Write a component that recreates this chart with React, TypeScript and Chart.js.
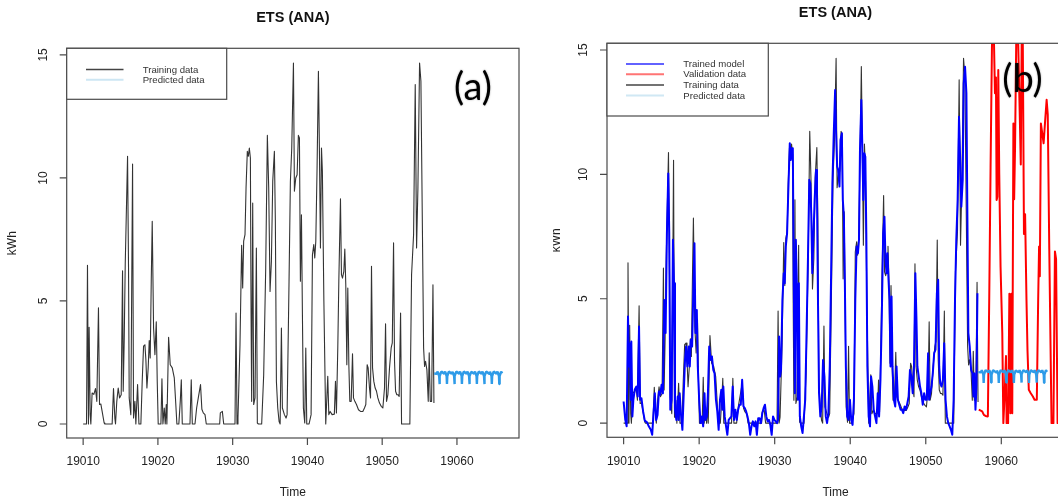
import React, { useEffect, useRef } from 'react';
import { Chart, registerables } from 'chart.js';
Chart.register(...registerables);

// ---------------- data ----------------
const xTicks = [19010, 19020, 19030, 19040, 19050, 19060];
const yTicks = [0, 5, 10, 15];
const X_MIN = 19007.8;
const X_MAX = 19068.3;
const Y_MIN = -0.57;
const Y_MAX = 15.27;

const trainT = [
  19010.0, 19010.45, 19010.58, 19010.71, 19010.8, 19010.94, 19011.03, 19011.2, 19011.43, 19011.65,
  19011.83, 19012.05, 19012.19, 19012.37, 19012.54, 19012.81, 19012.9, 19013.88, 19014.06, 19014.24,
  19014.33, 19014.5, 19014.69, 19014.87, 19015.09, 19015.27, 19015.36, 19015.49, 19015.63, 19015.94,
  19016.07, 19016.16, 19016.38, 19016.61, 19016.74, 19016.92, 19017.05, 19017.28, 19017.46, 19017.72,
  19017.9, 19018.08, 19018.26, 19018.39, 19018.53, 19018.7, 19018.84, 19018.97, 19019.11, 19019.24,
  19019.42, 19019.6, 19019.78, 19019.91, 19020.04, 19020.4, 19020.54, 19020.67, 19020.85, 19020.98,
  19021.12, 19021.2, 19021.43, 19021.65, 19021.92, 19022.19, 19022.37, 19022.54, 19022.8, 19022.99,
  19023.13, 19023.26, 19024.29, 19024.46, 19024.6, 19024.96, 19025.18, 19025.4, 19025.7, 19025.88,
  19026.07, 19026.3, 19026.47, 19028.26, 19028.35, 19028.62, 19028.8, 19030.31, 19030.45, 19030.58,
  19030.71, 19030.98, 19031.2, 19031.34, 19031.47, 19031.65, 19031.79, 19031.96, 19032.1, 19032.23,
  19032.37, 19032.46, 19032.54, 19032.68, 19032.81, 19032.99, 19033.17, 19033.3, 19033.44, 19033.88,
  19034.15, 19034.42, 19034.64, 19034.82, 19035.0, 19035.18, 19035.36, 19035.58, 19035.71, 19035.85,
  19036.03, 19036.21, 19036.35, 19036.52, 19036.65, 19036.92, 19037.14, 19037.28, 19037.54, 19037.72,
  19037.9, 19038.13, 19038.26, 19038.44, 19038.62, 19038.79, 19038.93, 19039.06, 19039.2, 19039.33,
  19039.46, 19039.64, 19039.78, 19039.91, 19040.22, 19040.49, 19040.67, 19040.85, 19040.98, 19041.12,
  19041.29, 19041.47, 19041.61, 19041.74, 19041.88, 19042.0, 19042.2, 19042.45, 19042.72, 19042.86,
  19043.04, 19043.3, 19043.6, 19043.75, 19043.88, 19044.06, 19044.2, 19044.42, 19044.55, 19044.69,
  19044.87, 19045.0, 19045.13, 19045.27, 19045.4, 19045.54, 19045.67, 19045.85, 19046.03, 19046.16,
  19046.34, 19046.56, 19046.83, 19047.1, 19047.41, 19047.63, 19047.81, 19047.99, 19048.12, 19048.3,
  19048.44, 19048.57, 19048.71, 19048.88, 19049.06, 19049.24, 19049.42, 19049.64, 19049.87, 19050.09,
  19050.31, 19050.45, 19050.58, 19050.76, 19050.98, 19051.2, 19051.35, 19051.52, 19051.65, 19051.79,
  19051.96, 19052.1, 19052.27, 19052.46, 19052.59, 19053.7, 19053.93, 19054.2, 19054.42, 19054.6,
  19054.78, 19055.0, 19055.18, 19055.36, 19055.54, 19055.67, 19055.8, 19055.98, 19056.16, 19056.29,
  19056.43, 19056.61, 19056.79, 19056.92,
];
const trainV = [
  0, 0, 6.45, 0, 3.93, 0.38, 0, 1.26, 1.2, 1.44,
  0.92, 4.72, 0.79, 0.81, 0.51, 0.04, 0, 0, 1.44, 0.24,
  0, 0.92, 1.46, 1.06, 1.19, 6.23, 1.33, 3.36, 6.48, 10.88,
  6.34, 1.06, 0.38, 10.57, 0.24, 0.92, 0, 1.6, 0, 0,
  1.73, 3.16, 3.22, 2.62, 1.46, 2.28, 3.39, 2.68, 5.8, 8.24,
  3.9, 2.82, 4.15, 1.73, 0, 0, 1.84, 0, 0.65, 0,
  0.79, 0, 3.52, 2.41, 2.28, 1.87, 0.92, 0, 0, 0.92,
  1.8, 0, 0, 1.8, 0, 0, 0.65, 1.06, 1.6, 0.6,
  0.45, 0.38, 0, 0, 0.45, 0.51, 0, 0, 4.51, 0,
  0.24, 3.22, 7.26, 5.53, 7.43, 7.7, 9.6, 11.08, 10.88, 11.22,
  10.81, 4.44, 0.92, 8.98, 0.79, 1.06, 7.15, 0.04, 0, 0,
  2.0, 6.34, 11.73, 9.6, 5.39, 6.61, 9.86, 11.08, 8.24, 1.73,
  0.65, 0.1, 0, 3.9, 0.65, 0.38, 0.24, 0.38, 5.8, 9.86,
  11.2, 14.67, 9.46, 10.0, 10.13, 11.73, 11.63, 5.8, 8.5, 4.44,
  0.65, 0.04, 3.09, 0, 0, 0.38, 6.88, 7.29, 6.75, 7.43,
  10.4, 14.34, 10.95, 7.15, 11.22, 10.27, 5.0, 0, 1.94, 0.38,
  0.51, 0.38, 0.4, 1.73, 0.45, 3.09, 5.8, 9.15, 6.07, 5.93,
  6.2, 7.11, 5.66, 2.41, 5.53, 2.41, 0.92, 0.92, 2.85, 1.06,
  0.92, 0.79, 0.58, 0.51, 0.51, 0.65, 0.79, 2.41, 2.28, 1.46,
  1.06, 6.41, 2.28, 1.73, 1.46, 1.33, 1.06, 0.85, 0.72, 0.65,
  1.46, 4.07, 0.92, 1.19, 2.28, 3.09, 3.3, 7.36, 2.55, 1.33,
  1.19, 1.19, 1.12, 4.51, 0, 0, 6.07, 7.7, 13.8, 7.15,
  9.6, 14.67, 13.93, 8.5, 3.09, 2.34, 2.55, 2.2, 0.92, 2.89,
  0.92, 0.92, 5.66, 0.85,
];

const modelT = [
  19010.0, 19010.22, 19010.4, 19010.58, 19010.71, 19010.84, 19010.93, 19011.02, 19011.16, 19011.29,
  19011.47, 19011.69, 19011.87, 19012.04, 19012.18, 19012.36, 19012.58, 19012.8, 19013.1, 19013.33,
  19013.6, 19013.78, 19013.96, 19014.13, 19014.31, 19014.49, 19014.67, 19014.84, 19015.02, 19015.2,
  19015.38, 19015.56, 19015.73, 19015.91, 19016.04, 19016.18, 19016.36, 19016.53, 19016.67, 19016.8,
  19016.98, 19017.16, 19017.29, 19017.42, 19017.6, 19017.78, 19017.96, 19018.13, 19018.27, 19018.44,
  19018.62, 19018.76, 19018.89, 19019.07, 19019.24, 19019.38, 19019.51, 19019.69, 19019.82, 19020.0,
  19020.18, 19020.36, 19020.53, 19020.71, 19020.84, 19021.02, 19021.16, 19021.33, 19021.51, 19021.69,
  19021.87, 19022.04, 19022.22, 19022.4, 19022.58, 19022.76, 19022.93, 19023.07, 19023.2, 19023.38,
  19023.56, 19023.73, 19023.91, 19024.09, 19024.27, 19024.44, 19024.62, 19024.8, 19024.98, 19025.16,
  19025.33, 19025.51, 19025.69, 19025.87, 19026.04, 19026.22, 19026.4, 19026.58, 19026.76, 19026.93,
  19027.11, 19027.29, 19027.47, 19027.64, 19027.82, 19028.0, 19028.18, 19028.36, 19028.53, 19028.71,
  19028.89, 19029.07, 19029.24, 19029.42, 19029.6, 19029.78, 19029.96, 19030.13, 19030.31, 19030.44,
  19030.58, 19030.71, 19030.84, 19031.02, 19031.2, 19031.33, 19031.47, 19031.64, 19031.82, 19032.0,
  19032.13, 19032.27, 19032.4, 19032.53, 19032.67, 19032.8, 19032.93, 19033.07, 19033.2, 19033.33,
  19033.51, 19033.69, 19033.87, 19034.04, 19034.22, 19034.4, 19034.58, 19034.71, 19034.84, 19034.98,
  19035.11, 19035.29, 19035.47, 19035.6, 19035.73, 19035.87, 19036.04, 19036.22, 19036.4, 19036.58,
  19036.76, 19036.93, 19037.11, 19037.29, 19037.47, 19037.64, 19037.82, 19038.0, 19038.13, 19038.27,
  19038.4, 19038.58, 19038.71, 19038.89, 19039.02, 19039.16, 19039.29, 19039.42, 19039.6, 19039.78,
  19039.96, 19040.13, 19040.31, 19040.49, 19040.67, 19040.84, 19041.02, 19041.16, 19041.29, 19041.47,
  19041.6, 19041.73, 19041.87, 19042.0, 19042.13, 19042.27, 19042.44, 19042.62, 19042.76, 19042.93,
  19043.11, 19043.29, 19043.47, 19043.64, 19043.82, 19044.0, 19044.18, 19044.36, 19044.53, 19044.67,
  19044.8, 19044.93, 19045.07, 19045.2, 19045.33, 19045.47, 19045.6, 19045.78, 19045.96, 19046.13,
  19046.31, 19046.49, 19046.67, 19046.84, 19047.02, 19047.2, 19047.38, 19047.56, 19047.73, 19047.91,
  19048.09, 19048.27, 19048.44, 19048.62, 19048.76, 19048.89, 19049.07, 19049.24, 19049.42, 19049.6,
  19049.78, 19049.96, 19050.13, 19050.31, 19050.44, 19050.58, 19050.76, 19050.93, 19051.11, 19051.29,
  19051.47, 19051.64, 19051.78, 19051.91, 19052.09, 19052.27, 19052.44, 19052.62, 19052.8, 19052.98,
  19053.16, 19053.33, 19053.51, 19053.69, 19053.87, 19054.04, 19054.22, 19054.4, 19054.58, 19054.71,
  19054.89, 19055.02, 19055.2, 19055.38, 19055.51, 19055.64, 19055.82, 19056.0, 19056.18, 19056.31,
  19056.44, 19056.58, 19056.71, 19056.84,
];
const modelV = [
  0.87, 0.13, -0.13, 4.29, 2.28, 3.2, 0.94, 3.28, 0.27, 0.94,
  1.34, 1.47, 1.07, 3.88, 0.94, 1.0, 0.47, 0.1, 0.03, -0.13,
  -0.27, -0.47, 0.4, 1.2, 0.13, 0.33, 1.27, 1.14, 1.54, 1.2,
  4.95, 3.62, 7.63, 10.04, 7.63, 0.54, 0.94, 7.37, 5.62, 0.54,
  0.13, 1.07, 0.13, 1.2, 0.33, -0.27, 1.2, 2.54, 3.08, 2.28,
  3.08, 2.28, 3.35, 3.08, 5.49, 7.23, 3.62, 4.55, 2.28, 0.94,
  0, 0.27, -0.13, 1.2, 0.13, 0.27, 1.2, 3.08, 2.54, 2.68,
  2.14, 2.0, 0.94, 0.47, -0.27, 0.94, 1.34, 0.54, 1.47, 0.27,
  -0.13, -0.47, 0.13, 0.2, 0.27, 1.47, 0.13, 0.54, 0.13, 0.54,
  0.74, 0.74, 1.74, 0.67, 0.6, 0.47, 0.27, 0, -0.47, -0.13,
  0.07, -0.13, 0.07, -0.47, 0.2, 0.2, 0, 0.4, 0.6, 0.74,
  0.27, 0.07, 0.13, -0.07, -0.47, 0.27, 0.13, 0.07, 0, 0.13,
  3.48, 1.87, 2.14, 4.95, 6.03, 5.62, 7.1, 7.63, 9.51, 11.25,
  10.58, 11.05, 11.05, 5.49, 1.2, 7.37, 5.62, 0.94, 5.62, 0.27,
  -0.13, -0.4, 0.27, 0.94, 3.62, 6.56, 9.78, 9.64, 8.44, 6.03,
  7.37, 8.97, 10.18, 9.24, 4.95, 1.2, 0.27, 0.67, 2.54, 1.87,
  0.27, 0, 0.4, 2.28, 6.03, 9.64, 11.65, 13.39, 11.65, 10.31,
  10.18, 9.51, 11.38, 11.65, 8.97, 8.3, 5.62, 2.28, 0.27, 0.13,
  0.94, 0.13, -0.07, 0.94, 4.95, 7.1, 6.83, 7.37, 10.98, 12.99,
  11.11, 8.97, 10.85, 10.71, 7.63, 2.28, 0.27, -0.13, 1.87, 1.47,
  0.54, 0.27, 0, 1.2, 0.27, 1.74, 4.29, 7.63, 8.3, 6.56,
  6.03, 6.83, 5.76, 4.95, 2.28, 5.09, 2.28, 0.94, 0.67, 2.28,
  0.94, 0.74, 0.54, 0.54, 0.4, 0.67, 0.54, 0.8, 1.07, 2.14,
  1.87, 1.2, 2.28, 6.03, 4.29, 2.28, 1.87, 1.47, 1.2, 0.74,
  1.2, 0.94, 0.94, 2.81, 0.94, 1.2, 1.47, 2.0, 2.81, 2.95,
  5.22, 5.76, 2.28, 1.61, 1.47, 1.74, 3.21, 0.94, 0.27, 0,
  -0.13, -0.27, -0.47, 0.94, 4.95, 7.37, 8.97, 12.32, 10.31, 8.7,
  9.78, 13.66, 14.33, 13.26, 8.3, 3.62, 3.08, 2.14, 2.0, 1.07,
  2.0, 0.54, 1.47, 5.22,
];

const validT = [
  19057.02, 19057.47, 19057.69, 19057.91, 19058.22, 19058.4, 19058.58, 19058.76, 19058.9, 19059.0,
  19059.16, 19059.29, 19059.38, 19059.47, 19059.6, 19059.73, 19059.9, 19060.13, 19060.27, 19060.45,
  19060.62, 19060.7, 19060.9, 19061.07, 19061.2, 19061.33, 19061.45, 19061.6, 19061.7, 19061.82,
  19062.0, 19062.2, 19062.4, 19062.58, 19062.7, 19062.84, 19063.0, 19063.15, 19063.33, 19063.47,
  19063.64, 19063.9, 19064.18, 19064.4, 19064.7, 19064.88, 19065.0, 19065.1, 19065.24, 19065.42,
  19065.6, 19065.78, 19066.0, 19066.15, 19066.35, 19066.65, 19066.9, 19067.1, 19067.25, 19067.45,
  19067.8, 19068.2,
];
const validV = [
  0.54, 0.47, 0.33, 0.29, 0.27, 4.95, 10.3, 15.1, 16.5, 15.8,
  13.26, 13.9, 8.97, 9.1, 14.2, 10.0, 6.3, 3.6, 0, 1.2,
  2.7, 0, 0, 5.2, 0.4, 5.2, 0.4, 12.05, 9.0, 11.1,
  16.0, 15.8, 13.0, 10.4, 15.5, 15.6, 7.6, 8.4, 5.0, 2.9,
  1.34, 1.2, 1.07, 0.94, 0.94, 4.95, 7.1, 5.9, 12.05, 11.65,
  11.25, 12.05, 13.0, 12.4, 7.0, 0, 0, 6.9, 6.6, 0,
  0, 1.5,
];

const predT = [
  19056.96, 19057.3,
  19057.42, 19057.62, 19057.665, 19057.71, 19057.91, 19058.3,
  19058.42, 19058.62, 19058.665, 19058.71, 19058.91, 19059.3,
  19059.42, 19059.62, 19059.665, 19059.71, 19059.91, 19060.3,
  19060.42, 19060.62, 19060.665, 19060.71, 19060.91, 19061.3,
  19061.42, 19061.62, 19061.665, 19061.71, 19061.91, 19062.3,
  19062.42, 19062.62, 19062.665, 19062.71, 19062.91, 19063.3,
  19063.42, 19063.62, 19063.665, 19063.71, 19063.91, 19064.3,
  19064.42, 19064.62, 19064.665, 19064.71, 19064.91, 19065.3,
  19065.42, 19065.62, 19065.665, 19065.71, 19065.91, 19066.05,
];
const predV = [
  2.05, 2.04,
  2.13, 1.95, 1.62, 1.95, 2.13, 2.04,
  2.13, 1.95, 1.63, 1.95, 2.13, 2.04,
  2.12, 1.95, 1.62, 1.95, 2.13, 2.04,
  2.13, 1.96, 1.63, 1.95, 2.13, 2.04,
  2.13, 1.95, 1.62, 1.95, 2.12, 2.04,
  2.13, 1.95, 1.63, 1.96, 2.13, 2.04,
  2.13, 1.95, 1.62, 1.95, 2.13, 2.04,
  2.13, 1.95, 1.63, 1.95, 2.13, 2.04,
  2.13, 1.95, 1.62, 1.95, 2.13, 2.06,
];

// ---------------- helpers ----------------
const pts = (t: number[], v: number[]) => t.map((x, i) => ({ x, y: v[i] }));
const FONT = '"Liberation Sans", Arial, Helvetica, sans-serif';

type LegendItem = { label: string; color: string; width: number };
type PanelSpec = {
  id: string;
  offset: number;
  width: number;
  padding: { left: number; right: number; top: number; bottom: number };
  titleY: number;
  ylabelX: number;
  legendBox: [number, number, number, number];
  legendLineX: [number, number];
  legendTextX: number;
  legendY: number[];
  legendItems: LegendItem[];
  letter: string;
  letterX: number;
  letterBaseY: number;
};

function framePlugin(spec: PanelSpec) {
  return {
    id: spec.id,
    afterDraw(chart: any) {
      const { ctx, chartArea: a, scales } = chart;
      const xs = scales.x;
      const ys = scales.y;
      const off = spec.offset;
      ctx.save();
      // box
      ctx.strokeStyle = '#4a4a4a';
      ctx.lineWidth = 1.2;
      ctx.strokeRect(a.left, a.top, a.right - a.left, a.bottom - a.top);
      // tick marks
      ctx.beginPath();
      for (const t of xTicks) {
        const px = xs.getPixelForValue(t);
        ctx.moveTo(px, a.bottom);
        ctx.lineTo(px, a.bottom + 7);
      }
      for (const v of yTicks) {
        const py = ys.getPixelForValue(v);
        ctx.moveTo(a.left, py);
        ctx.lineTo(a.left - 7, py);
      }
      ctx.stroke();
      // tick labels
      ctx.fillStyle = '#222';
      ctx.font = `12px ${FONT}`;
      ctx.textAlign = 'center';
      ctx.textBaseline = 'middle';
      for (const t of xTicks) {
        ctx.fillText(String(t), xs.getPixelForValue(t), a.bottom + 24);
      }
      for (const v of yTicks) {
        ctx.save();
        ctx.translate(a.left - 23.5, ys.getPixelForValue(v));
        ctx.rotate(-Math.PI / 2);
        ctx.fillText(String(v), 0, 0);
        ctx.restore();
      }
      // axis titles
      const cx = (a.left + a.right) / 2;
      ctx.fillText('Time', cx, a.bottom + 55);
      ctx.save();
      ctx.translate(spec.ylabelX - off, (a.top + a.bottom) / 2);
      ctx.rotate(-Math.PI / 2);
      ctx.fillText('kWh', 0, 0);
      ctx.restore();
      // main title
      ctx.fillStyle = '#111';
      ctx.font = `bold 14.5px ${FONT}`;
      ctx.fillText('ETS (ANA)', cx, spec.titleY);
      // legend
      const [bx1, by1, bx2, by2] = spec.legendBox;
      ctx.fillStyle = '#fff';
      ctx.fillRect(bx1 - off, by1, bx2 - bx1, by2 - by1);
      ctx.strokeStyle = '#4a4a4a';
      ctx.lineWidth = 1.2;
      ctx.strokeRect(bx1 - off, by1, bx2 - bx1, by2 - by1);
      ctx.font = `9.6px ${FONT}`;
      ctx.textAlign = 'left';
      spec.legendItems.forEach((it, i) => {
        const y = spec.legendY[i];
        ctx.beginPath();
        ctx.strokeStyle = it.color;
        ctx.lineWidth = it.width;
        ctx.moveTo(spec.legendLineX[0] - off, y);
        ctx.lineTo(spec.legendLineX[1] - off, y);
        ctx.stroke();
        ctx.fillStyle = '#333';
        ctx.fillText(it.label, spec.legendTextX - off, y + 0.5);
      });
      // panel letter
      ctx.fillStyle = '#000';
      ctx.shadowColor = 'rgba(0,0,0,0.35)';
      ctx.shadowBlur = 2;
      ctx.font = `38px Lato, "Open Sans", sans-serif`;
      ctx.textAlign = 'center';
      ctx.textBaseline = 'alphabetic';
      ctx.fillText(spec.letter, spec.letterX - off, spec.letterBaseY);
      ctx.restore();
    },
  };
}

const leftSpec: PanelSpec = {
  id: 'frameA',
  offset: 0,
  width: 540,
  padding: { left: 66.7, right: 21, top: 48.3, bottom: 66 },
  titleY: 18,
  ylabelX: 12.7,
  legendBox: [66.7, 48.3, 226.7, 99.3],
  legendLineX: [86, 123.5],
  legendTextX: 142.7,
  legendY: [69.5, 79.8],
  legendItems: [
    { label: 'Training data', color: '#444', width: 1.3 },
    { label: 'Predicted data', color: '#cde6f3', width: 2 },
  ],
  letter: '(a)',
  letterX: 473,
  letterBaseY: 100,
};

const rightSpec: PanelSpec = {
  id: 'frameB',
  offset: 553,
  width: 532,
  padding: { left: 54, right: 21, top: 43.3, bottom: 66.7 },
  titleY: 13,
  ylabelX: 556.5,
  legendBox: [607, 43.3, 768.3, 116],
  legendLineX: [626, 664],
  legendTextX: 683.3,
  legendY: [64, 74.3, 85, 95.5],
  legendItems: [
    { label: 'Trained model', color: '#6262ff', width: 2 },
    { label: 'Validation data', color: '#ff7474', width: 2 },
    { label: 'Training data', color: '#444', width: 1.3 },
    { label: 'Predicted data', color: '#d0e8f4', width: 2 },
  ],
  letter: '(b)',
  letterX: 1022.5,
  letterBaseY: 92,
};

function lineDs(data: any[], color: string, width: number, order: number, join: 'round' | 'bevel' = 'round') {
  return {
    data,
    borderColor: color,
    borderWidth: width,
    pointRadius: 0,
    tension: 0,
    fill: false,
    borderJoinStyle: join,
    borderCapStyle: 'butt' as const,
    order,
  };
}

function baseOptions(spec: PanelSpec) {
  return {
    animation: false as const,
    responsive: false,
    maintainAspectRatio: false,
    events: [] as any[],
    layout: { padding: spec.padding },
    scales: {
      x: { type: 'linear' as const, min: X_MIN, max: X_MAX, display: false },
      y: { type: 'linear' as const, min: Y_MIN, max: Y_MAX, display: false },
    },
    plugins: { legend: { display: false }, tooltip: { enabled: false }, title: { display: false } },
  };
}

function Panel({ spec, datasets }: { spec: PanelSpec; datasets: any[] }) {
  const ref = useRef<HTMLCanvasElement | null>(null);
  useEffect(() => {
    if (!ref.current) return;
    const chart = new Chart(ref.current, {
      type: 'line',
      data: { datasets },
      options: baseOptions(spec) as any,
      plugins: [framePlugin(spec)],
    });
    return () => chart.destroy();
  }, []);
  return (
    <canvas
      ref={ref}
      width={spec.width}
      height={504}
      style={{ position: 'absolute', left: spec.offset, top: 0, width: spec.width, height: 504, display: 'block' }}
    />
  );
}

export default function App() {
  const leftData = [
    lineDs(pts(trainT, trainV), '#333333', 1.1, 2),
    lineDs(pts(predT, predV), '#2e9be8', 2.4, 1, 'bevel'),
  ];
  const rightData = [
    lineDs(pts(trainT, trainV), '#333333', 1.1, 4),
    lineDs(pts(modelT, modelV), '#0000ff', 2.0, 3),
    lineDs(pts(validT, validV), '#ff0000', 2.0, 2),
    lineDs(pts(predT, predV), '#2e9be8', 2.4, 1, 'bevel'),
  ];
  return (
    <div
      style={{
        position: 'absolute',
        left: 0,
        top: 0,
        width: 1058,
        height: 504,
        overflow: 'hidden',
        background: '#fff',
      }}
    >
      <Panel spec={leftSpec} datasets={leftData} />
      <Panel spec={rightSpec} datasets={rightData} />
    </div>
  );
}
